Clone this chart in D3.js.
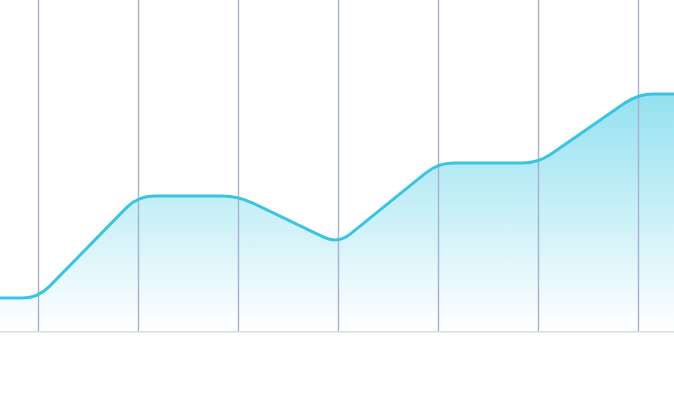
<!DOCTYPE html>
<html>
<head>
<meta charset="utf-8">
<script src="https://cdn.jsdelivr.net/npm/d3@7.9.0/dist/d3.min.js"></script>
<style>
  html, body { margin: 0; padding: 0; background: #fff; }
  svg { display: block; }
</style>
</head>
<body>
<div id="chart"></div>
<script>
const width = 674;
const height = 400;

// category positions (index), the first and last sit just outside the frame
const categories = [-1, 0, 1, 2, 3, 4, 5, 6, 7];
const values = [11, 11, 45, 45, 29, 56, 56, 79, 79];
const gridTicks = [0, 1, 2, 3, 4, 5, 6];

const xScale = d3.scaleLinear()
  .domain([0, 6])
  .range([38, 638]);

const yScale = d3.scaleLinear()
  .domain([0, 100])
  .range([331, 31]);

const svg = d3.select('#chart')
  .append('svg')
  .attr('viewBox', `0 0 ${width} ${height}`)
  .attr('width', width)
  .attr('height', height);

const defs = svg.append('defs');
const grad = defs.append('linearGradient')
  .attr('id', 'fillGrad')
  .attr('x1', 0).attr('y1', 0).attr('x2', 0).attr('y2', 1);
grad.append('stop').attr('offset', '0%').attr('stop-color', '#94e1f0');
grad.append('stop').attr('offset', '100%').attr('stop-color', '#ffffff');

// straight segments, corners softened over a fixed distance
function curveRounded(dist) {
  return function(context) {
    return {
      areaStart() { this._line = 0; },
      areaEnd() { this._line = NaN; },
      lineStart() { this._pts = []; },
      lineEnd() {
        const p = this._pts;
        if (p.length) {
          if (this._line) context.lineTo(p[0][0], p[0][1]);
          else context.moveTo(p[0][0], p[0][1]);
          for (let i = 1; i < p.length - 1; i++) {
            const [px, py] = p[i - 1], [cx, cy] = p[i], [nx, ny] = p[i + 1];
            const l1 = Math.hypot(cx - px, cy - py), l2 = Math.hypot(nx - cx, ny - cy);
            const t1 = Math.min(dist, l1 / 2), t2 = Math.min(dist, l2 / 2);
            context.lineTo(cx - (cx - px) / l1 * t1, cy - (cy - py) / l1 * t1);
            context.quadraticCurveTo(cx, cy, cx + (nx - cx) / l2 * t2, cy + (ny - cy) / l2 * t2);
          }
          if (p.length > 1) context.lineTo(p[p.length - 1][0], p[p.length - 1][1]);
        }
        if (this._line || (this._line !== 0 && p.length === 1)) context.closePath();
        this._line = 1 - this._line;
      },
      point(x, y) { this._pts.push([+x, +y]); }
    };
  };
}

const data = categories.map((c, i) => ({ c, v: values[i] }));

const area = d3.area()
  .curve(curveRounded(16))
  .x(d => xScale(d.c))
  .y0(yScale(0))
  .y1(d => yScale(d.v));

const line = d3.line()
  .curve(curveRounded(16))
  .x(d => xScale(d.c))
  .y(d => yScale(d.v));

// bottom axis line
svg.append('line')
  .attr('x1', 0).attr('x2', width)
  .attr('y1', yScale(0) + 0.5).attr('y2', yScale(0) + 0.5)
  .attr('stroke', '#dcdcdc')
  .attr('stroke-width', 2);

svg.append('path')
  .datum(data)
  .attr('d', area)
  .attr('fill', 'url(#fillGrad)');

// vertical grid lines on top of the fill
svg.append('g')
  .selectAll('line')
  .data(gridTicks)
  .join('line')
  .attr('x1', d => Math.round(xScale(d)) + 0.5)
  .attr('x2', d => Math.round(xScale(d)) + 0.5)
  .attr('y1', 0)
  .attr('y2', yScale(0))
  .attr('stroke', '#a6b0d2')
  .attr('stroke-width', 1.4);

svg.append('path')
  .datum(data)
  .attr('d', line)
  .attr('fill', 'none')
  .attr('stroke', '#3bc4e2')
  .attr('stroke-width', 3)
  .attr('stroke-linejoin', 'round');
</script>
</body>
</html>
